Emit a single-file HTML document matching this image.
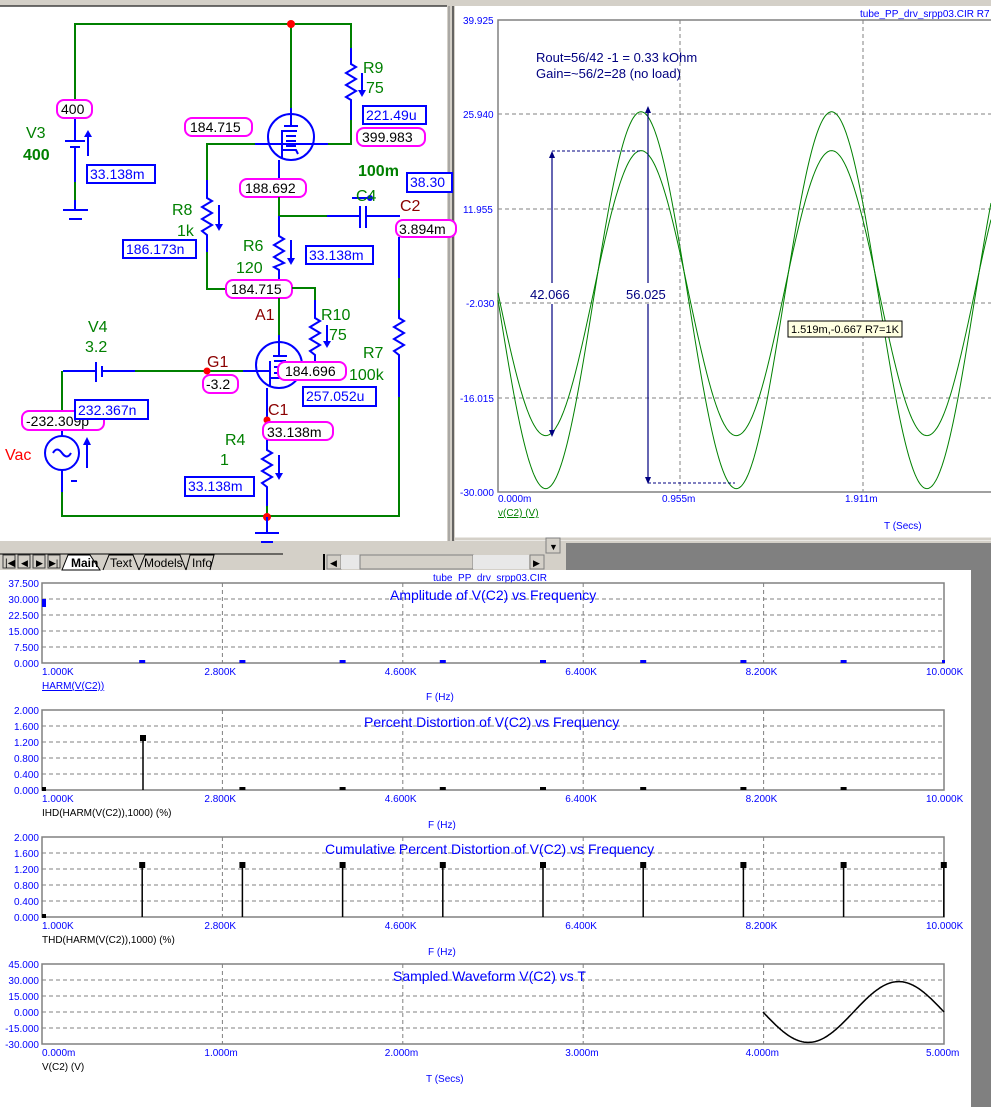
<!DOCTYPE html>
<html><head><meta charset="utf-8"><style>
html,body{margin:0;padding:0;background:#fff;width:991px;height:1107px;overflow:hidden}
svg{display:block;font-family:"Liberation Sans",sans-serif}
.g{stroke:#008000;stroke-width:2;fill:none}
.b{stroke:#0000ff;stroke-width:2;fill:none}
.pk{fill:#fff;stroke:#ff00ff;stroke-width:2}
.bx{fill:#fff;stroke:#0000ff;stroke-width:2}
.lg{fill:#008000;font-size:16px}
.lr{fill:#8b0000;font-size:16px}
.t14{font-size:14px}
.ax{fill:#0000ff;font-size:10px}
.grid{stroke:#808080;stroke-width:1;stroke-dasharray:4,3;fill:none}
.fr{stroke:#808080;stroke-width:1.5;fill:none}
.tt{fill:#0000ff;font-size:14px}
</style></head><body>
<svg width="991" height="1107" viewBox="0 0 991 1107" xmlns="http://www.w3.org/2000/svg">
<rect x="0" y="0" width="991" height="1107" fill="#fff"/>
<rect x="0" y="0" width="991" height="6" fill="#d4d0c8"/>
<line x1="0" y1="6" x2="450" y2="6" stroke="#404040" stroke-width="1.5"/>
<rect x="447" y="0" width="8" height="548" fill="#d4d0c8"/>
<line x1="449" y1="6" x2="449" y2="545" stroke="#808080"/>
<line x1="453" y1="6" x2="453" y2="545" stroke="#404040" stroke-width="1.5"/>
<rect x="455" y="6" width="536" height="533" fill="#fff"/>
<line x1="455" y1="539" x2="991" y2="539" stroke="#d4d0c8" stroke-width="3"/>
<rect x="0" y="541" width="991" height="4" fill="#d4d0c8"/>
<rect x="566" y="543" width="425" height="27" fill="#808080"/>
<rect x="971" y="570" width="20" height="537" fill="#808080"/>
<rect x="0" y="545" width="566" height="25" fill="#d4d0c8"/>
<rect x="546" y="538" width="14" height="15" fill="#d4d0c8" stroke="#808080"/>
<text x="549" y="550" font-size="9">▼</text>
<!-- tab bar -->
<rect x="0" y="554" width="566" height="16" fill="#d4d0c8"/>
<line x1="0" y1="554" x2="283" y2="554" stroke="#000"/>
<rect x="3" y="555" width="12" height="13" fill="#d4d0c8" stroke="#404040"/>
<rect x="18" y="555" width="12" height="13" fill="#d4d0c8" stroke="#404040"/>
<rect x="33" y="555" width="12" height="13" fill="#d4d0c8" stroke="#404040"/>
<rect x="48" y="555" width="12" height="13" fill="#d4d0c8" stroke="#404040"/>
<text x="5" y="566" font-size="10">|◀</text><text x="21" y="566" font-size="9">◀</text><text x="36" y="566" font-size="9">▶</text><text x="49" y="566" font-size="9">▶|</text>
<path d="M62 570 L68 555 L90 555 L100 570 Z" fill="#fff" stroke="#000"/>
<text x="71" y="567" font-size="12" font-weight="bold">Main</text>
<path d="M103 570 L109 555 L133 555 L139 570" fill="none" stroke="#000"/>
<text x="110" y="567" font-size="12">Text</text>
<path d="M139 570 L145 555 L180 555 L186 570" fill="none" stroke="#000"/>
<text x="144" y="567" font-size="12">Models</text>
<path d="M186 570 L190 555 L214 555 L210 570" fill="none" stroke="#000"/>
<text x="192" y="567" font-size="12">Info</text>
<line x1="324" y1="554" x2="324" y2="570" stroke="#000" stroke-width="2"/>
<rect x="327" y="555" width="14" height="14" fill="#d4d0c8" stroke="#808080"/>
<text x="330" y="566" font-size="9">◀</text>
<rect x="341" y="555" width="19" height="14" fill="#e8e8e8"/>
<rect x="360" y="555" width="113" height="14" fill="#d4d0c8" stroke="#808080"/>
<rect x="473" y="555" width="56" height="14" fill="#e8e8e8"/>
<rect x="530" y="555" width="14" height="14" fill="#d4d0c8" stroke="#808080"/>
<text x="533" y="566" font-size="9">▶</text>

<!-- ===== SCHEMATIC ===== -->
<g>
<polyline class="g" points="75,100 75,24 351,24 351,48"/>
<line class="g" x1="291" y1="24" x2="291" y2="108"/>
<circle cx="291" cy="24" r="4" fill="#f00"/>
<line class="b" x1="75" y1="118" x2="75" y2="141"/>
<line class="b" x1="65" y1="141" x2="85" y2="141"/>
<line class="b" x1="70" y1="147" x2="80" y2="147"/>
<line class="b" x1="75" y1="147" x2="75" y2="182"/>
<line class="g" x1="75" y1="182" x2="75" y2="200"/>
<line class="b" x1="75" y1="200" x2="75" y2="210"/>
<line class="b" x1="63" y1="210" x2="88" y2="210"/>
<line class="b" x1="69" y1="219" x2="82" y2="219"/>
<line class="b" x1="88" y1="156" x2="88" y2="134"/><path d="M84,137 L88,130 L92,137Z" fill="#00f"/>
<rect class="pk" x="57" y="100" width="35" height="18" rx="7"/><text x="61" y="114" class="t14">400</text>
<rect class="bx" x="87" y="165" width="68" height="18"/><text x="90" y="179" class="tt">33.138m</text>
<text x="26" y="138" class="lg">V3</text><text x="23" y="160" class="lg" font-weight="bold">400</text>
<circle class="b" cx="291" cy="137" r="23"/>
<line class="b" x1="291" y1="108" x2="291" y2="126"/>
<line class="b" x1="284" y1="126" x2="298" y2="126"/>
<path class="b" d="M282,159 L282,131 L297,131 M286,136h10 M286,141h10 M286,146h10"/>
<polyline class="b" points="282,150 296,150 298,154"/>
<line class="b" x1="255" y1="144" x2="328" y2="144"/>
<polyline class="g" points="255,144 207,144 207,180"/>
<polyline class="g" points="328,144 351,144 351,120"/>
<polyline class="b" points="351,120 351,100 346,97 356,91 346,85 356,79 346,73 356,67 351,64 351,48"/>
<line class="b" x1="362" y1="73" x2="362" y2="92"/><path d="M358,90 L362,97 L366,90Z" fill="#00f"/>
<text x="363" y="73" class="lg">R9</text><text x="366" y="93" class="lg">75</text>
<rect class="bx" x="363" y="106" width="63" height="18"/><text x="366" y="120" class="tt">221.49u</text>
<rect class="pk" x="357" y="128" width="68" height="18" rx="7"/><text x="362" y="142" class="t14">399.983</text>
<rect class="pk" x="185" y="118" width="67" height="18" rx="7"/><text x="190" y="132" class="t14">184.715</text>
<polyline class="b" points="207,180 207,198 212,201 202,207 212,213 202,219 212,225 202,231 207,235 207,252"/>
<polyline class="g" points="207,252 207,289 225,289"/>
<line class="b" x1="219" y1="205" x2="219" y2="226"/><path d="M215,224 L219,231 L223,224Z" fill="#00f"/>
<text x="172" y="215" class="lg">R8</text><text x="177" y="236" class="lg">1k</text>
<rect class="bx" x="123" y="240" width="73" height="18"/><text x="126" y="254" class="tt">186.173n</text>
<line class="b" x1="279" y1="160" x2="279" y2="180"/>
<rect class="pk" x="240" y="179" width="66" height="18" rx="7"/><text x="245" y="193" class="t14">188.692</text>
<line class="g" x1="279" y1="197" x2="279" y2="216"/>
<line class="g" x1="279" y1="216" x2="327" y2="216"/>
<line class="b" x1="327" y1="216" x2="360" y2="216"/>
<line class="b" x1="360" y1="206" x2="360" y2="228"/><line class="b" x1="366" y1="206" x2="366" y2="228"/>
<line class="b" x1="366" y1="216" x2="400" y2="216"/>
<line class="b" x1="352" y1="198" x2="370" y2="198"/><circle cx="370" cy="198" r="3" fill="#00f"/>
<text x="358" y="176" class="lg" font-weight="bold">100m</text><text x="356" y="201" class="lg">C4</text>
<rect class="bx" x="407" y="173" width="45" height="19"/><text x="410" y="187" class="tt">38.30</text>
<text x="400" y="211" class="lr">C2</text>
<rect class="pk" x="396" y="220" width="60" height="17" rx="7"/><text x="399" y="234" class="t14">3.894m</text>
<line class="b" x1="399" y1="237" x2="399" y2="278"/>
<polyline class="g" points="399,278 399,310"/>
<polyline class="b" points="399,310 399,318 404,321 394,327 404,333 394,339 404,345 394,351 399,355 399,397"/>
<polyline class="g" points="399,397 399,516 62,516 62,492"/>
<polyline class="b" points="279,216 279,236 284,239 274,245 284,251 274,257 284,263 274,267 279,270 279,280"/>
<line class="b" x1="291" y1="240" x2="291" y2="260"/><path d="M287,258 L291,265 L295,258Z" fill="#00f"/>
<text x="243" y="251" class="lg">R6</text><text x="236" y="273" class="lg">120</text>
<rect class="bx" x="306" y="246" width="67" height="18"/><text x="309" y="260" class="tt">33.138m</text>
<rect class="pk" x="226" y="280" width="66" height="18" rx="7"/><text x="231" y="294" class="t14">184.715</text>
<line class="g" x1="279" y1="298" x2="279" y2="335"/>
<polyline class="g" points="292,288 315,288 315,300"/>
<polyline class="b" points="315,300 315,318 320,321 310,327 320,333 310,339 320,345 310,351 315,355 315,362"/>
<line class="b" x1="327" y1="325" x2="327" y2="343"/><path d="M323,341 L327,348 L331,341Z" fill="#00f"/>
<text x="321" y="320" class="lg">R10</text><text x="329" y="340" class="lg">75</text>
<text x="255" y="320" class="lr">A1</text>
<circle class="b" cx="279" cy="365" r="23"/>
<line class="b" x1="279" y1="335" x2="279" y2="356"/>
<line class="b" x1="273" y1="356" x2="287" y2="356"/>
<path class="b" d="M270,387 L270,361 M274,361h12 M274,367h6 M274,373h6"/>
<polyline class="b" points="270,378 284,378"/>
<polyline class="b" points="63,371 96,371"/>
<line class="b" x1="96" y1="362" x2="96" y2="382"/><line class="b" x1="102" y1="366" x2="102" y2="377"/>
<line class="b" x1="102" y1="371" x2="135" y2="371"/>
<line class="g" x1="135" y1="371" x2="243" y2="371"/>
<line class="b" x1="243" y1="371" x2="270" y2="371"/>
<circle cx="207" cy="371" r="3.5" fill="#f00"/>
<text x="207" y="367" class="lr">G1</text>
<rect class="pk" x="203" y="375" width="35" height="18" rx="7"/><text x="206" y="389" class="t14">-3.2</text>
<rect class="pk" x="278" y="362" width="68" height="18" rx="7"/><text x="285" y="376" class="t14">184.696</text>
<rect class="bx" x="303" y="387" width="73" height="19"/><text x="306" y="401" class="tt">257.052u</text>
<text x="363" y="358" class="lg">R7</text><text x="349" y="380" class="lg">100k</text>
<text x="88" y="332" class="lg">V4</text><text x="85" y="352" class="lg">3.2</text>
<line class="b" x1="267" y1="388" x2="267" y2="450"/>
<circle cx="267" cy="420" r="3.5" fill="#f00"/>
<text x="268" y="415" class="lr">C1</text>
<rect class="pk" x="263" y="422" width="70" height="18" rx="7"/><text x="267" y="437" class="t14">33.138m</text>
<polyline class="b" points="267,440 267,450 272,453 262,459 272,465 262,471 272,477 262,483 267,487 267,506"/>
<line class="g" x1="267" y1="506" x2="267" y2="516"/>
<line class="b" x1="279" y1="455" x2="279" y2="475"/><path d="M275,473 L279,480 L283,473Z" fill="#00f"/>
<text x="225" y="445" class="lg">R4</text><text x="220" y="465" class="lg">1</text>
<rect class="bx" x="185" y="477" width="69" height="19"/><text x="188" y="491" class="tt">33.138m</text>
<circle cx="267" cy="517" r="4" fill="#f00"/>
<line class="b" x1="267" y1="517" x2="267" y2="533"/>
<line class="b" x1="255" y1="533" x2="279" y2="533"/>
<line class="b" x1="261" y1="542" x2="273" y2="542"/>
<line class="g" x1="62" y1="371" x2="62" y2="410"/>
<line class="b" x1="62" y1="430" x2="62" y2="436"/>
<circle class="b" cx="62" cy="453" r="17"/>
<path class="b" d="M53,453 q4,-7 9,0 q5,7 9,0"/>
<line class="b" x1="62" y1="470" x2="62" y2="492"/>
<line class="b" x1="87" y1="468" x2="87" y2="442"/><path d="M83,445 L87,437 L91,445Z" fill="#00f"/>
<line class="b" x1="71" y1="481" x2="77" y2="481"/>
<rect class="pk" x="22" y="411" width="82" height="19" rx="7"/><text x="26" y="426" class="t14">-232.309p</text>
<rect class="bx" x="75" y="400" width="73" height="19"/><text x="78" y="415" class="tt">232.367n</text>
<text x="5" y="460" fill="#f00" font-size="16">Vac</text>
</g>

<!-- ===== TRANSIENT PLOT ===== -->
<text x="860" y="17" fill="#0000ff" font-size="10">tube_PP_drv_srpp03.CIR R7</text>
<g>
<line class="grid" x1="498" y1="114" x2="991" y2="114"/>
<line class="grid" x1="498" y1="209" x2="991" y2="209"/>
<line class="grid" x1="498" y1="303" x2="991" y2="303"/>
<line class="grid" x1="498" y1="398" x2="991" y2="398"/>
<line class="grid" x1="680" y1="20" x2="680" y2="492"/>
<line class="grid" x1="863" y1="20" x2="863" y2="492"/>
<polyline class="fr" points="991,20 498,20 498,492 991,492"/>
<text x="463" y="24" class="ax">39.925</text>
<text x="463" y="118" class="ax">25.940</text>
<text x="463" y="213" class="ax">11.955</text>
<text x="466" y="307" class="ax">-2.030</text>
<text x="460" y="402" class="ax">-16.015</text>
<text x="460" y="496" class="ax">-30.000</text>
<text x="498" y="502" class="ax">0.000m</text>
<text x="662" y="502" class="ax">0.955m</text>
<text x="845" y="502" class="ax">1.911m</text>
<text x="498" y="516" fill="#008000" font-size="10" text-decoration="underline">v(C2) (V)</text>
<text x="884" y="529" class="ax">T (Secs)</text>
<path id="w1" fill="none" stroke="#008000" stroke-width="1"/>
<path id="w2" fill="none" stroke="#008000" stroke-width="1"/>
<text x="536" y="62" fill="#000080" font-size="13">Rout=56/42 -1 = 0.33 kOhm</text>
<text x="536" y="78" fill="#000080" font-size="13">Gain=~56/2=28  (no load)</text>
<line x1="552" y1="155" x2="552" y2="283" stroke="#000080" stroke-width="1.2"/>
<line x1="552" y1="304" x2="552" y2="433" stroke="#000080" stroke-width="1.2"/>
<path d="M549,158 L552,151 L555,158Z M549,430 L552,437 L555,430Z" fill="#000080"/>
<line x1="552" y1="151" x2="640" y2="151" stroke="#000080" stroke-dasharray="3,2"/>
<text x="530" y="299" fill="#000080" font-size="13">42.066</text>
<line x1="648" y1="110" x2="648" y2="283" stroke="#000080" stroke-width="1.2"/>
<line x1="648" y1="304" x2="648" y2="480" stroke="#000080" stroke-width="1.2"/>
<path d="M645,113 L648,106 L651,113Z M645,477 L648,484 L651,477Z" fill="#000080"/>
<line x1="648" y1="483" x2="735" y2="483" stroke="#000080" stroke-dasharray="3,2"/>
<text x="626" y="299" fill="#000080" font-size="13">56.025</text>
<rect x="788" y="321" width="114" height="16" fill="#ffffe1" stroke="#000"/>
<text x="791" y="333" font-size="11">1.519m,-0.667 R7=1K</text>
</g>

<text x="433" y="581" class="ax">tube_PP_drv_srpp03.CIR</text>
<g id="plots"></g>
<path id="sw" fill="none" stroke="#000" stroke-width="1.5"/>
</svg>
<script>
(function(){
var ns="http://www.w3.org/2000/svg";
function yv(v){return 492-(v+30)*6.753;}
function wave(c,A){var d="";for(var x=498;x<=991;x+=1){var v=c+A*Math.cos(2*Math.PI*(x-641)/190.6);d+=(x==498?"M":"L")+x+","+yv(v).toFixed(1);}return d;}
document.getElementById("w1").setAttribute("d",wave(-1.6,27.9));
document.getElementById("w2").setAttribute("d",wave(-0.55,21.1));
var g=document.getElementById("plots");
function el(t,a,txt){var e=document.createElementNS(ns,t);for(var k in a)e.setAttribute(k,a[k]);if(txt)e.textContent=txt;g.appendChild(e);return e;}
function plot(top,ylabels,xlabels,title,tx,leg,legc,legu,fl,fy){
 var b=top+80;
 for(var i=1;i<5;i++)el("line",{"class":"grid",x1:42,y1:top+16*i,x2:944,y2:top+16*i});
 for(var j=1;j<5;j++){var x=42+180.4*j;el("line",{"class":"grid",x1:x,y1:top,x2:x,y2:b});}
 el("rect",{x:42,y:top,width:902,height:80,fill:"none",stroke:"#808080","stroke-width":1.5});
 for(var i=0;i<6;i++)el("text",{x:39,y:top+4+16*i,"class":"ax","text-anchor":"end"},ylabels[i]);
 for(var j=0;j<6;j++)el("text",{x:42+180.4*j-(j==0?0:18),y:b+12,"class":"ax"},xlabels[j]);
 el("text",{x:tx,y:top+17,fill:"#0000ff","font-size":14},title);
 var lt=el("text",{x:42,y:b+26,fill:legc,"font-size":10},leg);if(legu)lt.setAttribute("text-decoration","underline");
 el("text",{x:fl,y:fy,"class":"ax"},"F (Hz)");
}
var fx=["1.000K","2.800K","4.600K","6.400K","8.200K","10.000K"];
plot(583,["37.500","30.000","22.500","15.000","7.500","0.000"],fx,"Amplitude of V(C2) vs Frequency",390,"HARM(V(C2))","#0000ff",true,426,700);
plot(710,["2.000","1.600","1.200","0.800","0.400","0.000"],fx,"Percent Distortion of V(C2) vs Frequency",364,"IHD(HARM(V(C2)),1000) (%)","#000",false,428,828);
plot(837,["2.000","1.600","1.200","0.800","0.400","0.000"],fx,"Cumulative Percent Distortion of V(C2) vs Frequency",325,"THD(HARM(V(C2)),1000) (%)","#000",false,428,955);
plot(964,["45.000","30.000","15.000","0.000","-15.000","-30.000"],["0.000m","1.000m","2.000m","3.000m","4.000m","5.000m"],"Sampled Waveform  V(C2) vs T",393,"V(C2) (V)","#000",false,-100,0);
el("text",{x:426,y:1082,"class":"ax"},"T (Secs)");
el("rect",{x:42,y:599,width:4,height:8,fill:"#00f"});
for(var k=1;k<9;k++)el("rect",{x:42+100.2*k-3,y:660,width:6,height:3,fill:"#00f"});
el("rect",{x:942,y:660,width:3,height:3,fill:"#00f"});
el("rect",{x:42,y:787,width:4,height:4,fill:"#000"});
el("line",{x1:143,y1:738,x2:143,y2:790,stroke:"#000","stroke-width":1.5});
el("rect",{x:140,y:735,width:6,height:6,fill:"#000"});
for(var k=2;k<9;k++)el("rect",{x:42+100.2*k-3,y:787,width:6,height:3,fill:"#000"});
el("rect",{x:42,y:914,width:4,height:4,fill:"#000"});
for(var k=1;k<10;k++){var x=42+100.2*k;if(x>944)x=943;el("line",{x1:x,y1:865,x2:x,y2:917,stroke:"#000","stroke-width":1.5});el("rect",{x:x-3,y:862,width:6,height:6,fill:"#000"});}
var d="";for(var x=763;x<=944;x++){var v=-28.5*Math.sin(2*Math.PI*(x-763)/181);d+=(x==763?"M":"L")+x+","+(1012-v*16/15).toFixed(1);}
document.getElementById("sw").setAttribute("d",d);
})();
</script>
</body></html>
